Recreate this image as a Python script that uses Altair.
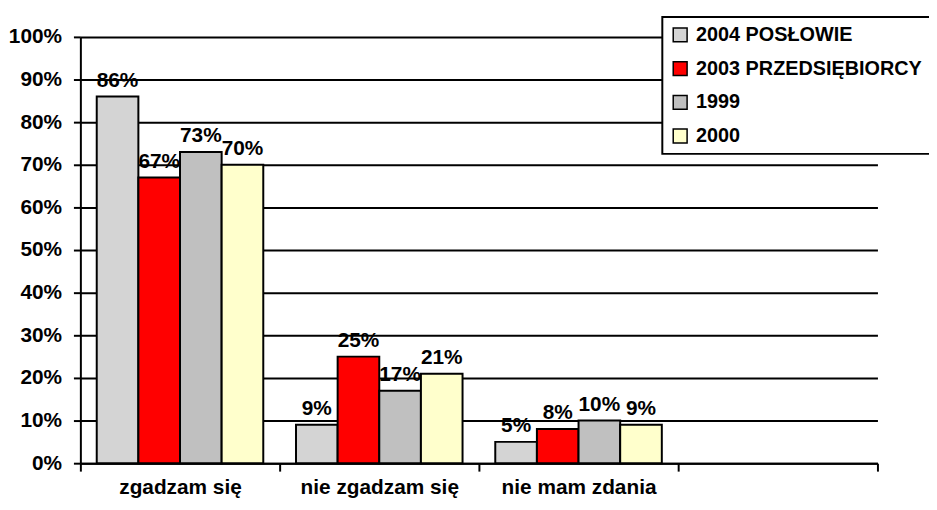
import altair as alt
import pandas as pd

categories = ["zgadzam się", "nie zgadzam się", "nie mam zdania", " "]
data_categories = ["zgadzam się", "nie zgadzam się", "nie mam zdania"]
series = ["2004 POSŁOWIE", "2003 PRZEDSIĘBIORCY", "1999", "2000"]
v2004 = [86, 9, 5]
v2003 = [67, 25, 8]
v1999 = [73, 17, 10]
v2000 = [70, 21, 9]
colors = ["#d4d4d4", "#ff0000", "#c0c0c0", "#ffffcc"]
y_ticks = [0, 0.1, 0.2, 0.3, 0.4, 0.5, 0.6, 0.7, 0.8, 0.9, 1.0]

rows = []
for s, vals in zip(series, [v2004, v2003, v1999, v2000]):
    for c, v in zip(data_categories, vals):
        rows.append({"cat": c, "series": s, "value": v / 100.0})
df = pd.DataFrame(rows)

FONT = "Liberation Sans"

x_enc = alt.X(
    "cat:N",
    sort=categories,
    scale=alt.Scale(domain=categories, paddingInner=0, paddingOuter=0),
    axis=alt.Axis(
        title=None, labelAngle=0, tickBand="extent", tickSize=8, tickWidth=2,
        tickColor="black", domainColor="black", domainWidth=2,
        labelFont=FONT, labelFontSize=21, labelFontWeight="bold", labelColor="black",
        labelPadding=23, labelBaseline="alphabetic", grid=False,
    ),
)
xoff_enc = alt.XOffset(
    "series:N", sort=series,
    scale=alt.Scale(domain=series, paddingInner=0, paddingOuter=0.393),
)
y_enc = alt.Y(
    "value:Q",
    scale=alt.Scale(domain=[0, 1], nice=False),
    axis=alt.Axis(
        title=None, values=y_ticks, format=".0%", grid=True, gridColor="black",
        gridWidth=2, gridOpacity=1, tickSize=7, tickWidth=2, tickColor="black",
        domainColor="black", domainWidth=2, labelFont=FONT, labelFontSize=21,
        labelFontWeight="bold", labelColor="black", labelPadding=12,
    ),
)

bars = alt.Chart(df).mark_bar(stroke="black", strokeWidth=2).encode(
    x=x_enc,
    xOffset=xoff_enc,
    y=y_enc,
    color=alt.Color(
        "series:N",
        sort=series,
        scale=alt.Scale(domain=series, range=colors),
        legend=alt.Legend(
            title=None, orient="none", legendX=587, legendY=-20,
            fillColor="white", strokeColor="black", padding=8,
            symbolType="square", symbolSize=196, symbolStrokeColor="black",
            symbolStrokeWidth=1.5, symbolOpacity=1, labelFont=FONT,
            labelFontSize=20, labelFontWeight="bold", labelColor="black",
            labelLimit=400, labelOffset=6, rowPadding=14, direction="vertical",
        ),
    ),
)

labels = alt.Chart(df).mark_text(
    font=FONT, fontSize=21, fontWeight="bold", color="black",
    baseline="alphabetic", dy=-10,
).encode(
    x=alt.X("cat:N", sort=categories),
    xOffset=alt.XOffset("series:N", sort=series),
    y=alt.Y("value:Q"),
    text=alt.Text("value:Q", format=".0%"),
)

chart = (
    alt.layer(bars, labels)
    .properties(
        width=804, height=430,
        autosize=alt.AutoSizeParams(type="none"),
        padding={"left": 73, "top": 27, "right": 52, "bottom": 37},
        background="white",
    )
    .configure_view(strokeWidth=0)
    .configure_legend(strokeWidth=2)
)

chart.save("out.html", embed_options={"renderer": "svg", "actions": False})
